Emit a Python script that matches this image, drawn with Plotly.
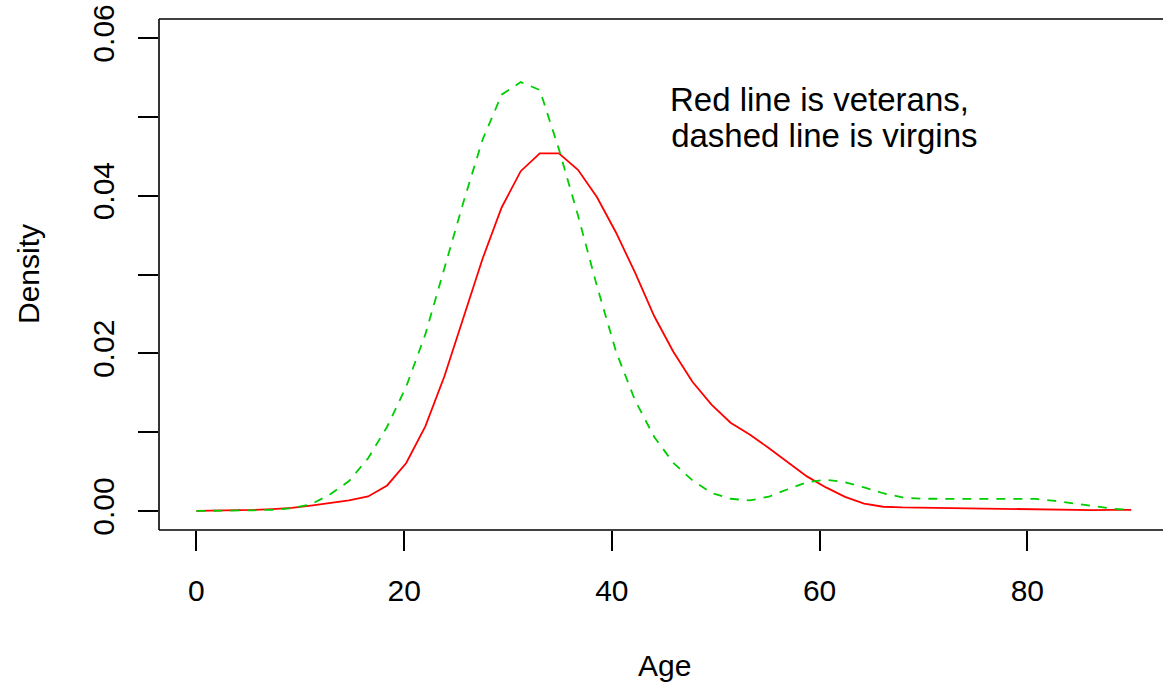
import numpy as np
import plotly.graph_objects as go

# Data: density estimates evaluated on 50 ages from 0 to 90
age = np.linspace(0, 90, 50)

veterans = [0.00003, 0.00005, 0.00009, 0.00015, 0.00025, 0.0004, 0.0007, 0.001, 0.00135, 0.00186,
            0.00325, 0.0061, 0.01075, 0.0171, 0.0246, 0.0320, 0.0385, 0.0431, 0.04536, 0.04536,
            0.04328, 0.0398, 0.0353, 0.0302, 0.0247, 0.0202, 0.0164, 0.0135, 0.0112, 0.0097,
            0.0080, 0.0062, 0.0044, 0.0030, 0.0018, 0.00095, 0.00055, 0.00046, 0.00042, 0.0004,
            0.00035, 0.0003, 0.00025, 0.0002, 0.00016, 0.00014, 0.00013, 0.00013, 0.00014, 0.00015]

virgins = [0.00002, 0.00003, 0.00005, 0.0001, 0.00017, 0.00036, 0.00086, 0.0021, 0.0038, 0.0067,
           0.0107, 0.0158, 0.0224, 0.0308, 0.0392, 0.0471, 0.0528, 0.0544, 0.0534, 0.0459,
           0.0375, 0.0285, 0.0202, 0.0140, 0.0094, 0.0061, 0.0039, 0.0023, 0.00156, 0.00135,
           0.00182, 0.00277, 0.00366, 0.00398, 0.00366, 0.0030, 0.00226, 0.00173, 0.00156, 0.00156,
           0.00156, 0.00156, 0.00156, 0.00156, 0.00154, 0.0013, 0.0010, 0.00064, 0.0003, 0.00014]

x_ticks = [0, 20, 40, 60, 80]
y_ticks = [0.00, 0.01, 0.02, 0.03, 0.04, 0.05, 0.06]
y_ticktext = ["0.00", "", "0.02", "", "0.04", "", "0.06"]
note_lines = ["Red line is veterans,", "\u00a0dashed line is virgins"]

FONT = "Liberation Sans, Arial, Helvetica, sans-serif"

fig = go.Figure()
fig.add_trace(go.Scatter(x=age, y=veterans, mode="lines",
                         line=dict(color="#FF0000", width=1.8), showlegend=False))
fig.add_trace(go.Scatter(x=age, y=virgins, mode="lines",
                         line=dict(color="#00CD00", width=1.8, dash="9px,8px"), showlegend=False))

plot_w = 1163 - 159
plot_h = 686 - 19 - 156

fig.update_layout(
    width=1163, height=686,
    margin=dict(l=159, r=0, t=19, b=156, autoexpand=False),
    paper_bgcolor="white", plot_bgcolor="white",
    font=dict(family=FONT, size=30, color="black"),
    xaxis=dict(range=[-3.6, 93.06], tickvals=x_ticks, ticks="outside", ticklen=20,
               tickwidth=1.5, tickcolor="black", showgrid=False, zeroline=False,
               showline=False, ticklabelstandoff=14, automargin=False,
               tickfont=dict(size=30, family=FONT, color="black")),
    yaxis=dict(range=[-0.0024, 0.0624], tickvals=y_ticks, ticktext=y_ticktext,
               tickangle=-90, ticks="outside", ticklen=20, tickwidth=1.5, tickcolor="black",
               showgrid=False, zeroline=False, showline=False, ticklabelstandoff=12,
               automargin=False, tickfont=dict(size=30, family=FONT, color="black")),
    shapes=[
        dict(type="line", xref="paper", yref="paper", x0=0, x1=1, y0=1, y1=1,
             line=dict(color="black", width=1.6)),
        dict(type="line", xref="paper", yref="paper", x0=0, x1=1, y0=0, y1=0,
             line=dict(color="black", width=1.6)),
        dict(type="line", xref="paper", yref="paper", x0=0, x1=0, y0=0, y1=1,
             line=dict(color="black", width=1.6)),
    ],
    annotations=[
        dict(x=60, y=0.0522, xref="x", yref="y", text=note_lines[0],
             showarrow=False, xanchor="center", yanchor="middle",
             font=dict(size=33, family=FONT, color="black")),
        dict(x=60, y=0.0476, xref="x", yref="y", text=note_lines[1],
             showarrow=False, xanchor="center", yanchor="middle",
             font=dict(size=33, family=FONT, color="black")),
        dict(x=(664 - 159) / plot_w, y=-(665 - (686 - 156)) / plot_h,
             xref="paper", yref="paper",
             text="Age", showarrow=False, xanchor="center", yanchor="middle",
             font=dict(size=30, family=FONT, color="black")),
        dict(x=-(159 - 28) / plot_w, y=((686 - 156) - 274) / plot_h,
             xref="paper", yref="paper", text="Density", showarrow=False,
             textangle=-90, xanchor="center", yanchor="middle",
             font=dict(size=30, family=FONT, color="black")),
    ],
)

fig.write_html("out.html")
